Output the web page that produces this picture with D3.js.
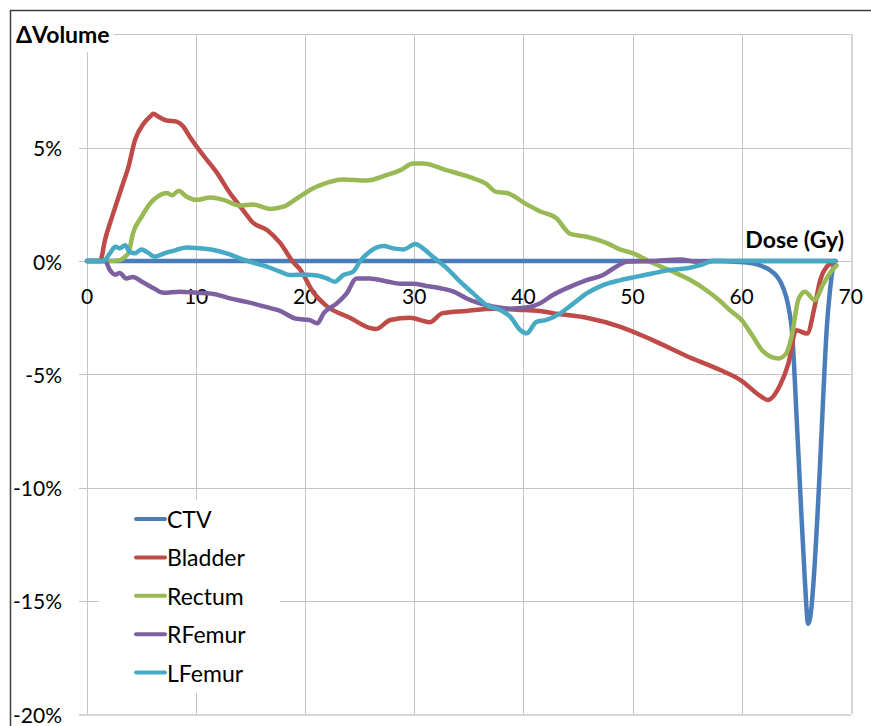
<!DOCTYPE html>
<html>
<head>
<meta charset="utf-8">
<script src="https://cdn.jsdelivr.net/npm/d3@7"></script>
<style>
  html, body { margin: 0; padding: 0; background: #fff; }
  svg { display: block; }
  text { font-family: Lato, "Liberation Sans", sans-serif; fill: #000; }
</style>
</head>
<body>
<svg id="chart" width="871" height="726"></svg>
<script>
// Change in volume (%) versus dose (Gy), per structure: [dose, ΔVolume %]
const ctv = [[0,0],[58,0],[59.5,-0.03],[61,-0.1],[62,-0.25],[62.6,-0.4],[63.2,-0.65],[63.6,-0.95],
  [64.1,-1.6],[64.4,-2.3],[64.6,-3.0],[64.8,-4.5],[65.0,-6.5],[65.4,-10.4],[65.8,-14.1],[66.1,-16.0],
  [66.4,-15.3],[66.6,-14.1],[67.0,-10.8],[67.2,-8.9],[67.5,-5.8],[67.8,-3.0],[68.1,-1.3],[68.3,-0.5],[68.6,0]];

const bladder = [[0,0],[1.2,0],[1.65,0.93],[2.4,2.1],[3.2,3.28],[3.8,4.16],[4.4,5.34],[5.2,6.07],[5.9,6.43],
  [6.05,6.5],[6.6,6.35],[7.3,6.2],[8.2,6.15],[8.8,5.95],[9.4,5.5],[10.6,4.7],[11.9,3.9],[13.1,3.0],
  [14.3,2.25],[15.2,1.7],[16.5,1.37],[17.7,0.8],[18.9,-0.05],[19.5,-0.35],[20.7,-1.35],[22.0,-2.0],
  [24.1,-2.5],[25.9,-2.95],[26.5,-3.0],[27.8,-2.6],[29.6,-2.5],[31.4,-2.7],[32.6,-2.3],[34.8,-2.2],
  [37.2,-2.1],[39.4,-2.15],[41.5,-2.2],[42.7,-2.3],[45.8,-2.5],[48.9,-2.9],[51.9,-3.5],[55.0,-4.2],
  [58.0,-4.8],[59.9,-5.25],[61.7,-5.95],[62.4,-6.13],[63.5,-5.5],[64.3,-4.5],[65.0,-3.05],[66.0,-3.2],
  [66.7,-2.0],[67.2,-0.85],[67.8,-0.25],[68.6,0]];

const rectum = [[0,0],[1.8,0],[3.0,0.04],[3.5,0.2],[3.8,0.35],[4.2,1.2],[5.0,1.95],[5.8,2.55],[6.5,2.85],
  [7.3,3.0],[7.8,2.9],[8.4,3.1],[9.1,2.85],[10.05,2.7],[11.3,2.8],[12.5,2.7],[14.0,2.45],[15.2,2.5],
  [16.8,2.3],[18.0,2.4],[19.2,2.75],[20.7,3.2],[21.4,3.35],[23.5,3.6],[25.6,3.55],[27.5,3.8],[28.7,4.0],
  [29.9,4.3],[30.8,4.3],[33.0,4.0],[35.1,3.7],[36.6,3.4],[37.5,3.05],[38.5,3.0],[40.3,2.5],[41.5,2.2],
  [43.0,1.9],[44.3,1.2],[45.8,1.07],[47.6,0.8],[48.9,0.5],[50.0,0.35],[51.9,-0.1],[53.7,-0.47],
  [55.3,-0.84],[56.8,-1.3],[58.0,-1.75],[59.0,-2.2],[60.0,-2.6],[61.0,-3.3],[62.0,-4.0],[63.4,-4.3],
  [64.1,-4.07],[64.6,-3.3],[65.2,-1.7],[65.8,-1.35],[66.7,-1.72],[67.5,-1.0],[68.3,-0.4],[68.7,-0.2]];

const rFemur = [[0,0],[1.65,0],[2.1,-0.4],[2.6,-0.6],[3.0,-0.53],[3.6,-0.77],[4.2,-0.7],[5.0,-0.9],
  [6.1,-1.2],[7.0,-1.4],[8.5,-1.35],[10.05,-1.4],[11.6,-1.45],[13.1,-1.65],[14.6,-1.8],[16.2,-2.0],
  [17.7,-2.2],[19.2,-2.55],[20.4,-2.6],[21.1,-2.75],[21.7,-2.3],[22.9,-1.87],[23.8,-1.43],[24.7,-0.77],
  [25.9,-0.77],[27.5,-0.9],[28.7,-1.0],[29.9,-1.0],[31.1,-1.1],[32.4,-1.2],[33.6,-1.35],[34.8,-1.65],
  [36.0,-1.87],[37.2,-2.0],[38.8,-2.1],[40.3,-2.05],[41.5,-1.87],[42.7,-1.5],[44.3,-1.13],[45.8,-0.84],
  [47.3,-0.62],[48.5,-0.25],[49.5,-0.03],[51.9,0],[54.4,0.07],[55.9,-0.03],[57.4,0],[68.6,0]];

const lFemur = [[0,0],[1.5,0],[2.1,0.34],[2.6,0.63],[3.0,0.56],[3.5,0.7],[3.9,0.41],[4.4,0.34],[5.0,0.51],
  [5.6,0.37],[6.2,0.19],[7.1,0.34],[8.2,0.49],[9.1,0.6],[10.4,0.56],[11.6,0.49],[12.8,0.34],[14.0,0.12],
  [15.2,-0.07],[16.5,-0.25],[17.7,-0.47],[18.6,-0.62],[20.1,-0.6],[21.1,-0.64],[22.0,-0.77],[22.7,-0.91],
  [23.5,-0.62],[24.4,-0.47],[25.0,-0.03],[25.9,0.41],[27.2,0.66],[28.1,0.56],[29.0,0.51],[30.1,0.75],
  [30.8,0.56],[31.7,0.19],[33.0,-0.32],[34.2,-0.91],[35.4,-1.43],[36.6,-1.94],[37.9,-2.16],[38.8,-2.46],
  [39.7,-3.04],[40.3,-3.19],[41.2,-2.68],[42.1,-2.6],[43.4,-2.3],[44.6,-1.87],[45.8,-1.43],[47.3,-1.06],
  [48.9,-0.84],[50.4,-0.69],[51.9,-0.54],[53.4,-0.4],[55.0,-0.32],[56.2,-0.18],[57.4,0],[68.6,0]];

const seriesNames = ["CTV", "Bladder", "Rectum", "RFemur", "LFemur"];
const seriesData = [ctv, bladder, rectum, rFemur, lFemur];
const seriesColors = ["#4a7ebb", "#be4b48", "#98b954", "#7d60a0", "#46aac5"];

const xTicks = [0, 10, 20, 30, 40, 50, 60, 70];
const yTicks = [-20, -15, -10, -5, 0, 5, 10];
const yTickLabels = ["-20%", "-15%", "-10%", "-5%", "0%", "5%", ""];

const svg = d3.select("#chart");
const x = d3.scaleLinear().domain([0, 70]).range([87, 850.7]);
const y = d3.scaleLinear().domain([-20, 10]).range([714.3, 34.4]);

// Gridlines
const grid = svg.append("g").attr("stroke", "#c4c4c4").attr("stroke-width", 1).attr("shape-rendering", "crispEdges");
grid.selectAll("line.v").data(xTicks).join("line")
  .attr("x1", d => Math.round(x(d)) + 0.5).attr("x2", d => Math.round(x(d)) + 0.5)
  .attr("y1", y(10)).attr("y2", y(-20))
  .attr("stroke", d => d === 70 ? "#d6d6d6" : "#c4c4c4")
  .attr("stroke-width", d => d === 70 ? 2 : 1);
grid.selectAll("line.h").data(yTicks).join("line")
  .attr("x1", 79).attr("x2", x(70))
  .attr("y1", d => Math.round(y(d)) + 0.5).attr("y2", d => Math.round(y(d)) + 0.5)
  .attr("stroke", d => d === -20 ? "#d6d6d6" : "#c4c4c4")
  .attr("stroke-width", d => d === -20 ? 2 : 1);

// Y tick labels
svg.append("g").selectAll("text").data(yTicks).join("text")
  .attr("x", 62).attr("y", d => y(d))
  .attr("text-anchor", "end").attr("dominant-baseline", "central")
  .attr("font-size", 21)
  .text((d, i) => yTickLabels[i]);

// X tick labels, sitting under the zero line
svg.append("g").selectAll("text").data(xTicks).join("text")
  .attr("x", d => x(d)).attr("y", y(0) + 34)
  .attr("text-anchor", "middle").attr("dominant-baseline", "central")
  .attr("font-size", 21)
  .text(d => d);

// Axis titles
svg.append("rect").attr("x", 12).attr("y", 16).attr("width", 102).attr("height", 36).attr("fill", "#fff");
svg.append("text").attr("x", 16).attr("y", 43)
  .attr("font-size", 23).attr("font-weight", "bold").text("ΔVolume");
svg.append("text").attr("x", 844).attr("y", 248)
  .attr("text-anchor", "end")
  .attr("font-size", 23).attr("font-weight", "bold").text("Dose (Gy)");

// Series lines
const line = d3.line().x(d => x(d[0])).y(d => y(d[1])).curve(d3.curveMonotoneX);
svg.append("g").selectAll("path").data(seriesData).join("path")
  .attr("d", line)
  .attr("fill", "none")
  .attr("stroke", (d, i) => seriesColors[i])
  .attr("stroke-width", 4.5)
  .attr("stroke-linejoin", "round")
  .attr("stroke-linecap", "round");

// Legend
const legend = svg.append("g");
legend.append("rect").attr("x", 99).attr("y", 500).attr("width", 181).attr("height", 193).attr("fill", "#fff");
const items = legend.selectAll("g").data(seriesNames).join("g")
  .attr("transform", (d, i) => `translate(0, ${519 + i * 38.4})`);
items.append("line").attr("x1", 136).attr("x2", 165).attr("y1", 0).attr("y2", 0)
  .attr("stroke", (d, i) => seriesColors[i]).attr("stroke-width", 4).attr("stroke-linecap", "round");
items.append("text").attr("x", 167).attr("y", 0).attr("dominant-baseline", "central")
  .attr("font-size", 23).text(d => d);

// Outer frame
svg.append("path").attr("d", "M10.5,726 L10.5,10.5 L871,10.5")
  .attr("fill", "none").attr("stroke", "#3c3c3c").attr("stroke-width", 1.5);
</script>
</body>
</html>
